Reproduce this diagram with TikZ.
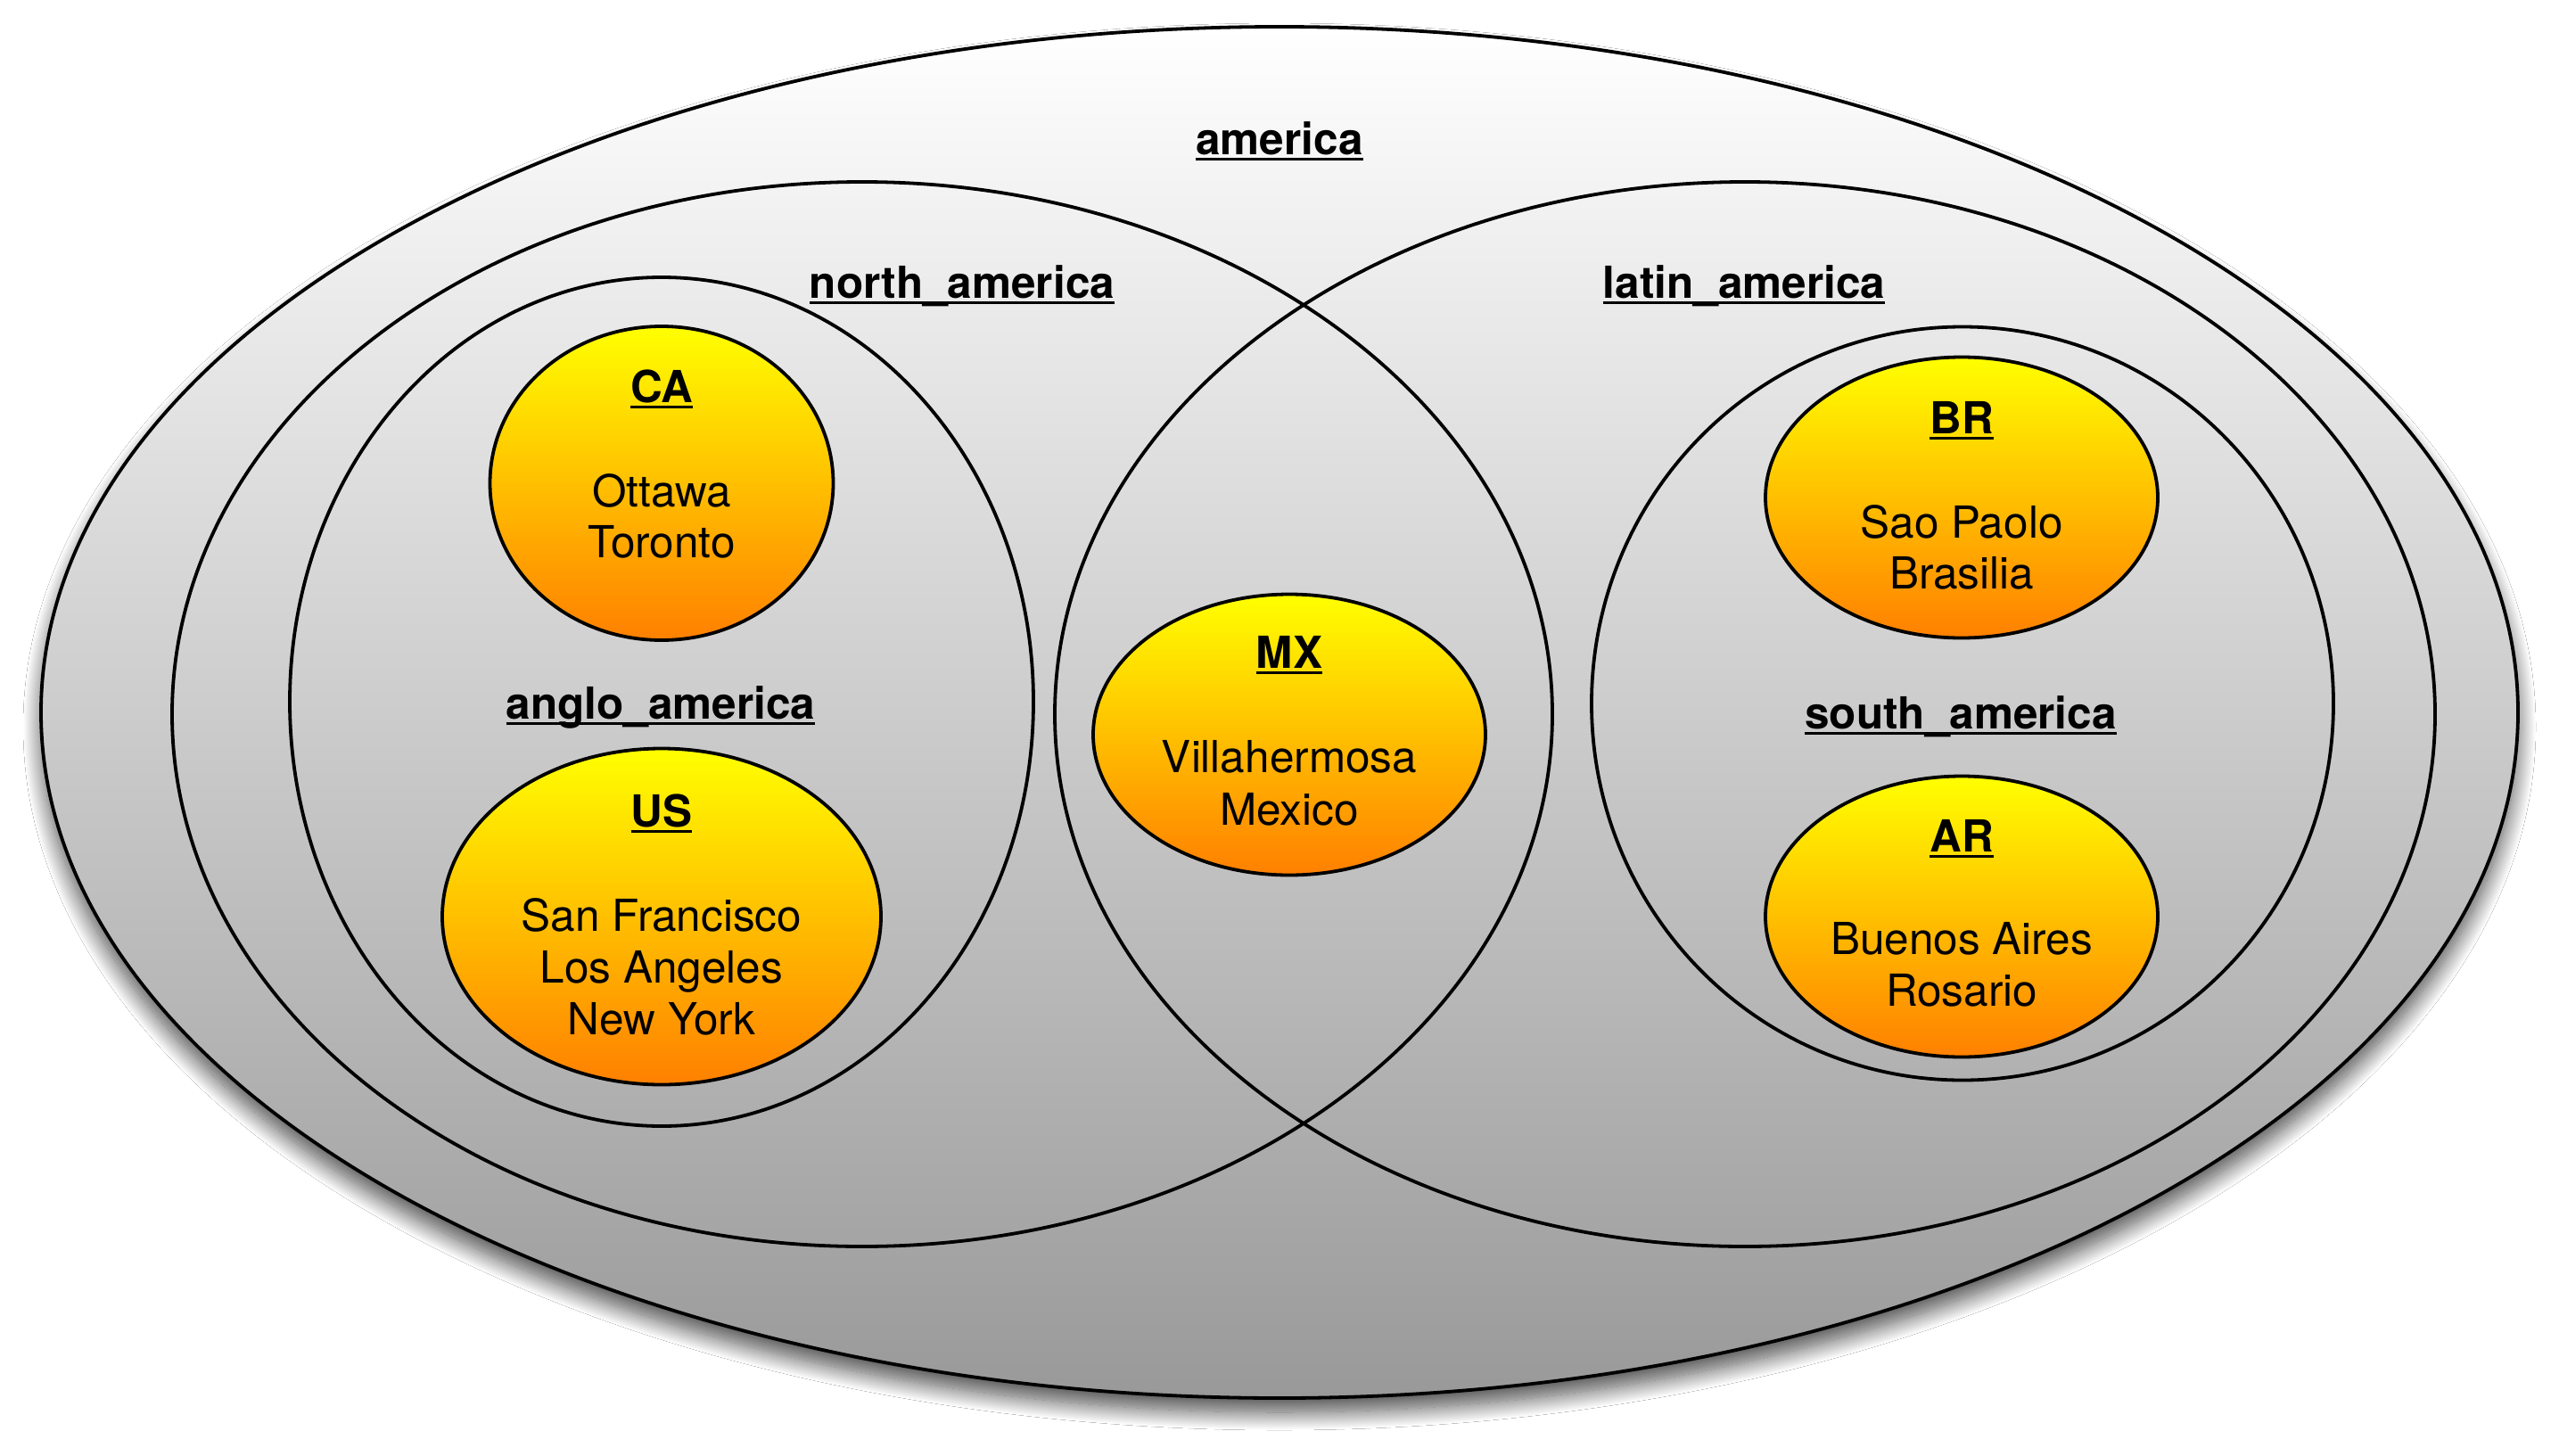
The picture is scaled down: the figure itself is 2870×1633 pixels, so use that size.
\documentclass[tikz,border=0pt]{standalone}
\usepackage{fontspec}
\setmainfont{TeX Gyre Heros}
\usetikzlibrary{shapes.geometric,shadows.blur}

\definecolor{shadetop}{RGB}{255,255,255}
\definecolor{shadebottom}{RGB}{153,153,153}
\definecolor{cityyellow}{RGB}{255,255,0}
\definecolor{cityorange}{RGB}{255,128,0}

% bold title with a heavy rule under it
\newsavebox\titlebox
\newcommand\settitle[1]{%
  \sbox\titlebox{\bfseries #1}%
  \rlap{\raisebox{-6.5pt}{\rule{\wd\titlebox}{3pt}}}\usebox\titlebox}
\newcommand\bigtext{\fontsize{49.5}{58}\selectfont}

\tikzset{
  region/.style={ellipse, draw=black, line width=3.8pt, inner sep=0pt, outer sep=0pt},
  country/.style={region, top color=cityyellow, bottom color=cityorange},
  txt/.style={anchor=base, inner sep=0pt, font=\bigtext},
}

\begin{document}
\begin{tikzpicture}[x=1pt, y=-1pt]
  \useasboundingbox (0,0) rectangle (2870,1633);
  \fill[white] (0,0) rectangle (2870,1633);

  % outer set
  \node[region, minimum width=2778pt, minimum height=1538pt,
        top color=shadetop, bottom color=shadebottom,
        blur shadow={shadow xshift=0pt, shadow yshift=-16pt,
                     shadow blur radius=20pt, shadow blur steps=30,
                     shadow opacity=70}]
        (america) at (1435,799) {};

  % the two overlapping sets
  \node[region, minimum width=1548pt, minimum height=1194pt] (north) at (967,801) {};
  \node[region, minimum width=1548pt, minimum height=1194pt] (latin) at (1957,801) {};

  % nested sets
  \node[region, minimum width=834pt, minimum height=952pt] (anglo) at (742,787) {};
  \node[region, minimum width=832pt, minimum height=845pt] (south) at (2201,789) {};

  % countries
  \node[country, minimum width=385pt, minimum height=352pt] (ca) at (742,542) {};
  \node[country, minimum width=492pt, minimum height=377pt] (us) at (742,1028) {};
  \node[country, minimum width=440pt, minimum height=315pt] (mx) at (1446,824) {};
  \node[country, minimum width=440pt, minimum height=315pt] (br) at (2200,558) {};
  \node[country, minimum width=440pt, minimum height=315pt] (ar) at (2200,1028) {};

  % set titles
  \node[txt] (america-t) at (1435,173) {\settitle{america}};
  \node[txt] (north-t) at (1079,334) {\settitle{north\_america}};
  \node[txt] (latin-t) at (1956,334) {\settitle{latin\_america}};
  \node[txt] (anglo-t) at (741,806) {\settitle{anglo\_america}};
  \node[txt] (south-t) at (2199,817) {\settitle{south\_america}};

  % CA
  \node[txt] (ca-t) at (742,451) {\settitle{CA}};
  \node[txt] (ca-1) at (742,568) {Ottawa};
  \node[txt] (ca-2) at (742,625) {Toronto};

  % US
  \node[txt] (us-t) at (742,927) {\settitle{US}};
  \node[txt] (us-1) at (742,1044) {San Francisco};
  \node[txt] (us-2) at (742,1102) {Los Angeles};
  \node[txt] (us-3) at (742,1160) {New York};

  % MX
  \node[txt] (mx-t) at (1446,749) {\settitle{MX}};
  \node[txt] (mx-1) at (1446,866) {Villahermosa};
  \node[txt] (mx-2) at (1446,925) {Mexico};

  % BR
  \node[txt] (br-t) at (2200,486) {\settitle{BR}};
  \node[txt] (br-1) at (2200,603) {Sao Paolo};
  \node[txt] (br-2) at (2200,660) {Brasilia};

  % AR
  \node[txt] (ar-t) at (2200,955) {\settitle{AR}};
  \node[txt] (ar-1) at (2200,1070) {Buenos Aires};
  \node[txt] (ar-2) at (2200,1128) {Rosario};
\end{tikzpicture}
\end{document}
